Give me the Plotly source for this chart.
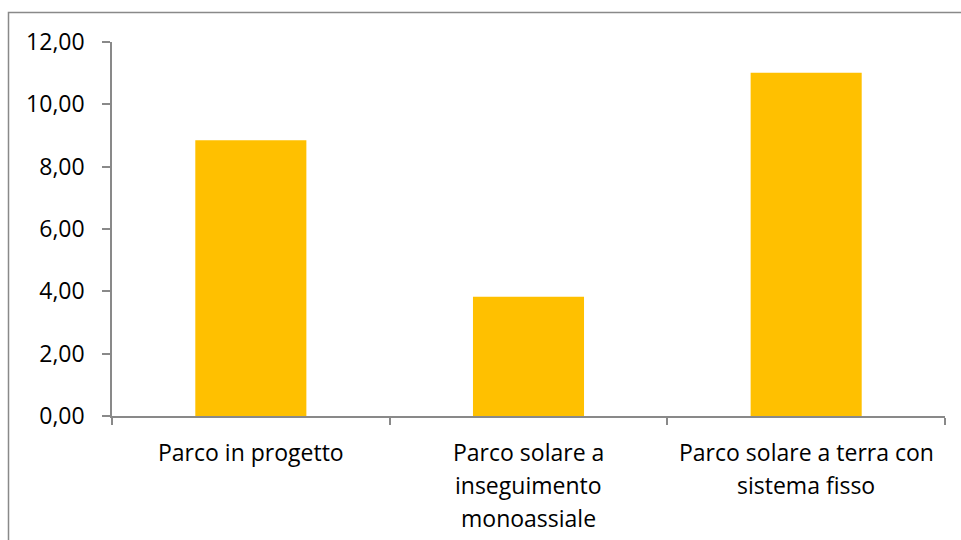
import plotly.graph_objects as go

categories = [
    "Parco in progetto",
    "Parco solare a<br>inseguimento<br>monoassiale",
    "Parco solare a terra con<br>sistema fisso",
]
values = [8.85, 3.83, 11.01]
y_ticks = [0, 2, 4, 6, 8, 10, 12]

axis_grey = "#898989"
font_family = "'Open Sans', sans-serif"
font_size = 23
line_step = 33  # pixel spacing between lines of a category label

fig = go.Figure(
    go.Bar(
        x=categories,
        y=values,
        marker=dict(color="#FFC000", line=dict(width=0)),
        hoverinfo="y",
    )
)

fig.update_layout(
    width=961,
    height=540,
    margin=dict(l=112, r=16, t=42, b=124),
    paper_bgcolor="white",
    plot_bgcolor="white",
    bargap=0.6,
    separators=",.",
    showlegend=False,
    font=dict(family=font_family, size=font_size, color="#000000"),
)

fig.update_xaxes(
    showline=True,
    linecolor=axis_grey,
    linewidth=1.5,
    ticks="outside",
    tickson="boundaries",
    ticklen=7,
    tickcolor=axis_grey,
    tickwidth=1.5,
    showgrid=False,
    showticklabels=False,
)

fig.update_yaxes(
    range=[0, 12],
    tickvals=y_ticks,
    tickformat=".2f",
    showline=True,
    linecolor=axis_grey,
    linewidth=1.5,
    ticks="outside",
    ticklen=8,
    tickcolor=axis_grey,
    tickwidth=1.5,
    showgrid=False,
    zeroline=False,
    ticklabelstandoff=13,
)

# category labels, one annotation per line so the line spacing can be set
for cat in categories:
    for i, line in enumerate(cat.split("<br>")):
        fig.add_annotation(
            x=cat,
            xref="x",
            y=0,
            yref="paper",
            text=line,
            showarrow=False,
            xanchor="center",
            yanchor="middle",
            yshift=-(36 + i * line_step),
            font=dict(family=font_family, size=font_size, color="#000000"),
        )

# chart-area frame (its right and bottom edges run past the page)
fig.add_shape(
    type="rect",
    xref="paper",
    yref="paper",
    x0=(8.5 - 112) / 833,
    x1=1.2,
    y0=-0.5,
    y1=(416 - 12.5) / 374,
    line=dict(color=axis_grey, width=1.5),
    fillcolor="rgba(0,0,0,0)",
    layer="below",
)

fig.write_html("out.html")
